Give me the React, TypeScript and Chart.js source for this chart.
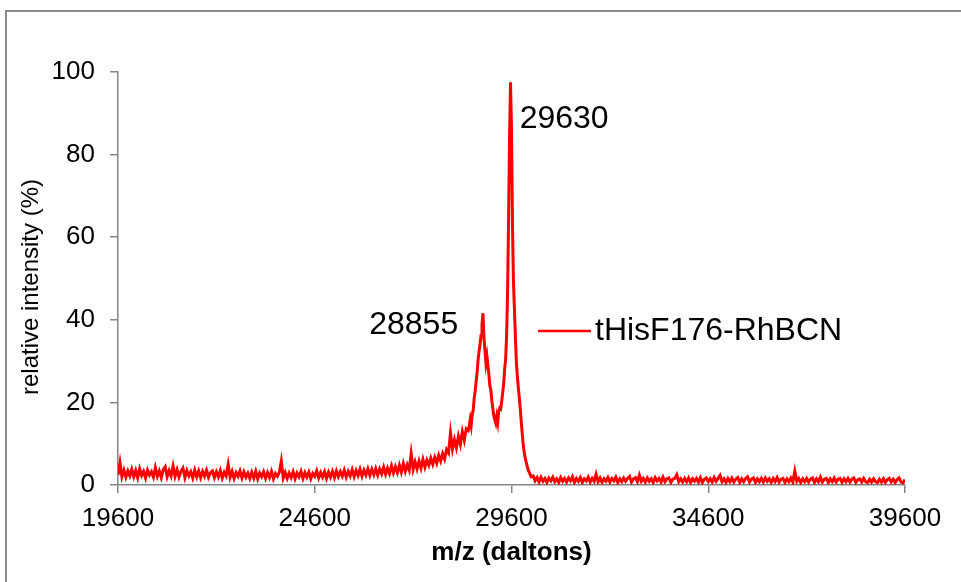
import { useEffect, useRef } from 'react';
import { Chart, registerables } from 'chart.js';

Chart.register(...registerables);

const FONT = "'Liberation Sans', Arial, Helvetica, sans-serif";
const AXIS_COLOR = '#868686';
const LINE_COLOR = '#ff0000';

const seriesLabel = 'tHisF176-RhBCN';
const xTitle = 'm/z (daltons)';
const yTitle = 'relative intensity (%)';
const peakLabels = ['28855', '29630'];
const peakMz = [28855, 29630];
const peakHeights = [41.6, 97.5];

const xMin = 19600;
const xMax = 39600;
const xStep = 5000;
const yMin = 0;
const yMax = 100;
const yStep = 20;

// low-mass baseline, 19600 - 28500
const mzLow = [
  19600, 19650, 19700, 19750, 19800, 19850, 19900, 19950,
  20000, 20050, 20100, 20150, 20200, 20250, 20300, 20350, 20400, 20450, 20500, 20550, 20600, 20650, 20700, 20750, 20800, 20850, 20900, 20950,
  21000, 21050, 21100, 21150, 21200, 21250, 21300, 21350, 21400, 21450, 21500, 21550, 21600, 21650, 21700, 21750, 21800, 21850, 21900, 21950,
  22000, 22050, 22100, 22150, 22200, 22250, 22300, 22350, 22400, 22450, 22500, 22550, 22600, 22650, 22700, 22750, 22800, 22850, 22900, 22950,
  23000, 23050, 23100, 23150, 23200, 23250, 23300, 23350, 23400, 23450, 23500, 23550, 23600, 23650, 23700, 23750, 23800, 23850, 23900, 23950,
  24000, 24050, 24100, 24150, 24200, 24250, 24300, 24350, 24400, 24450, 24500, 24550, 24600, 24650, 24700, 24750, 24800, 24850, 24900, 24950,
  25000, 25050, 25100, 25150, 25200, 25250, 25300, 25350, 25400, 25450, 25500, 25550, 25600, 25650, 25700, 25750, 25800, 25850, 25900, 25950,
  26000, 26050, 26100, 26150, 26200, 26250, 26300, 26350, 26400, 26450, 26500, 26550, 26600, 26650, 26700, 26750, 26800, 26850, 26900, 26950,
  27000, 27050, 27100, 27150, 27200, 27250, 27300, 27350, 27400, 27450, 27500, 27550, 27600, 27650, 27700, 27750, 27800, 27850, 27900, 27950,
  28000, 28050, 28100, 28150, 28200, 28250, 28300, 28350, 28400, 28450, 28500,
];
const intensityLow = [
  2.4, 5.4, 2.0, 3.6, 1.9, 3.4, 2.2, 3.8,
  2.0, 3.5, 1.8, 3.9, 2.3, 3.3, 1.7, 3.6, 2.4, 3.2, 1.9, 4.2, 2.1, 3.4, 1.8, 3.7, 4.4, 2.0, 3.5, 2.2,
  4.6, 2.1, 3.7, 1.9, 3.3, 4.1, 1.8, 3.5, 2.2, 3.2, 1.7, 3.6, 2.0, 3.4, 1.8, 3.3, 2.1, 3.6, 1.9, 3.0,
  3.4, 1.8, 3.2, 2.0, 3.5, 1.7, 3.1, 2.2, 5.0, 1.9, 3.3, 1.6, 3.0, 2.1, 3.4, 1.7, 3.2, 1.9, 2.9, 1.6,
  3.1, 1.7, 3.3, 1.5, 2.9, 2.0, 3.2, 1.6, 3.0, 1.8, 3.3, 1.5, 2.8, 2.1, 3.1, 5.8, 1.7, 3.0, 1.6, 2.9,
  1.8, 3.2, 1.5, 2.9, 2.0, 3.3, 1.6, 3.0, 1.9, 3.1, 1.5, 2.8, 2.1, 3.4, 1.7, 3.0, 1.9, 3.2, 1.6, 3.1,
  1.9, 3.3, 1.8, 3.4, 2.0, 3.2, 2.1, 3.6, 1.9, 3.3, 2.2, 3.7, 2.0, 3.5, 2.3, 3.8, 2.1, 3.6, 2.4, 3.9,
  2.3, 3.8, 2.5, 4.0, 2.4, 3.9, 2.7, 4.3, 2.6, 4.1, 2.8, 4.6, 2.9, 4.4, 3.0, 4.8, 3.1, 5.2, 3.3, 4.9,
  3.6, 7.6, 3.8, 5.6, 3.9, 5.8, 4.1, 6.2, 4.3, 6.0, 4.8, 6.5, 5.0, 6.7, 5.3, 7.2, 5.8, 7.6, 6.3, 8.6,
  7.8, 12.6, 8.7, 11.0, 9.0, 11.8, 9.8, 12.9, 10.8, 13.6, 13.2,
];

// peak region, 28525 - 30100
const mzPeak = [
  28525, 28550, 28575, 28600, 28625, 28650, 28675, 28700, 28725, 28750, 28775, 28800, 28825, 28850, 28875, 28900, 28925, 28950, 28975, 29000,
  29025, 29050, 29075, 29100, 29125, 29150, 29175, 29200, 29225, 29250, 29275, 29300, 29325, 29350, 29375, 29400, 29425, 29450, 29475, 29500,
  29525, 29550, 29575, 29600, 29625, 29650, 29675, 29700, 29725, 29750, 29775, 29800, 29825, 29850, 29875, 29900, 29925, 29950, 29975, 30000,
  30025, 30050, 30075, 30100,
];
const intensityPeak = [
  14.2, 15.8, 14.4, 17.0, 18.0, 20.8, 22.6, 25.0, 27.0, 30.2, 32.4, 34.0, 36.2, 38.8, 41.6, 35.6, 32.6, 29.6, 31.2, 29.0,
  26.8, 24.0, 23.0, 20.4, 18.6, 16.8, 15.8, 15.0, 16.6, 15.2, 17.8, 18.6, 18.4, 20.2, 22.2, 24.4, 28.0, 30.4, 36.0, 46.5,
  64.0, 84.0, 97.5, 86.0, 63.0, 49.0, 42.5, 35.5, 29.5, 26.2, 23.4, 21.0, 18.2, 15.0, 12.2, 9.6, 7.8, 6.5, 5.4, 4.5,
  3.6, 3.1, 2.5, 2.0,
];

// high-mass baseline, 30150 - 39600
const mzHigh = [
  30150, 30200, 30250, 30300, 30350, 30400, 30450, 30500, 30550, 30600, 30650, 30700, 30750, 30800, 30850, 30900, 30950,
  31000, 31050, 31100, 31150, 31200, 31250, 31300, 31350, 31400, 31450, 31500, 31550, 31600, 31650, 31700, 31750, 31800, 31850, 31900, 31950,
  32000, 32050, 32100, 32150, 32200, 32250, 32300, 32350, 32400, 32450, 32500, 32550, 32600, 32650, 32700, 32750, 32800, 32850, 32900, 32950,
  33000, 33050, 33100, 33150, 33200, 33250, 33300, 33350, 33400, 33450, 33500, 33550, 33600, 33650, 33700, 33750, 33800, 33850, 33900, 33950,
  34000, 34050, 34100, 34150, 34200, 34250, 34300, 34350, 34400, 34450, 34500, 34550, 34600, 34650, 34700, 34750, 34800, 34850, 34900, 34950,
  35000, 35050, 35100, 35150, 35200, 35250, 35300, 35350, 35400, 35450, 35500, 35550, 35600, 35650, 35700, 35750, 35800, 35850, 35900, 35950,
  36000, 36050, 36100, 36150, 36200, 36250, 36300, 36350, 36400, 36450, 36500, 36550, 36600, 36650, 36700, 36750, 36800, 36850, 36900, 36950,
  37000, 37050, 37100, 37150, 37200, 37250, 37300, 37350, 37400, 37450, 37500, 37550, 37600, 37650, 37700, 37750, 37800, 37850, 37900, 37950,
  38000, 38050, 38100, 38150, 38200, 38250, 38300, 38350, 38400, 38450, 38500, 38550, 38600, 38650, 38700, 38750, 38800, 38850, 38900, 38950,
  39000, 39050, 39100, 39150, 39200, 39250, 39300, 39350, 39400, 39450, 39500, 39550, 39600,
];
const intensityHigh = [
  2.2, 1.0, 1.8, 0.7, 1.9, 0.9, 1.6, 0.6, 1.7, 1.0, 1.9, 0.8, 1.5, 0.6, 1.8, 0.9, 1.6,
  0.7, 1.7, 1.0, 2.0, 0.6, 1.6, 0.9, 1.8, 0.6, 1.5, 1.0, 1.9, 0.7, 1.6, 0.9, 2.6, 0.8, 1.7, 0.6, 1.5,
  0.9, 1.8, 0.7, 1.6, 1.0, 1.9, 0.6, 1.5, 0.8, 1.7, 0.9, 1.6, 2.1, 0.7, 1.5, 1.8, 0.8, 2.4, 0.9, 1.6,
  0.7, 1.7, 0.9, 1.5, 0.6, 1.8, 1.0, 1.6, 0.7, 1.9, 0.8, 1.5, 1.7, 0.6, 1.4, 1.6, 2.5, 0.8, 1.5, 0.7,
  1.6, 0.8, 1.7, 0.6, 1.5, 0.9, 1.6, 0.7, 1.8, 0.6, 1.4, 1.7, 0.8, 1.5, 0.7, 1.8, 0.9, 1.6, 2.3, 0.8,
  1.5, 0.6, 1.6, 0.8, 1.7, 0.7, 1.4, 1.8, 0.6, 1.5, 0.8, 1.6, 2.0, 0.7, 1.4, 1.7, 0.6, 1.5, 0.8, 1.6,
  0.7, 1.7, 0.9, 1.5, 0.6, 1.6, 0.8, 1.8, 0.7, 1.4, 1.6, 0.6, 1.5, 0.8, 1.7, 0.7, 3.4, 0.9, 1.6, 0.6,
  1.5, 0.8, 1.6, 0.7, 1.4, 1.7, 0.6, 1.5, 0.8, 1.9, 0.7, 1.4, 1.6, 0.6, 1.5, 0.8, 1.7, 0.7, 1.4, 1.6,
  0.6, 1.5, 0.8, 1.6, 0.7, 1.4, 1.7, 0.6, 1.3, 1.5, 0.7, 1.6, 0.8, 0.6, 1.4, 0.7, 1.5, 0.8, 0.6, 1.4,
  0.7, 1.5, 0.6, 1.3, 1.6, 0.7, 1.4, 0.6, 1.3, 1.7, 0.7, 0.5, 1.3,
];

const mz = [...mzLow, ...mzPeak, ...mzHigh];
const intensity = [...intensityLow, ...intensityPeak, ...intensityHigh];

const overlayPlugin = {
  id: 'overlay',
  beforeDraw(chart: any) {
    const ctx = chart.ctx;
    ctx.save();
    ctx.strokeStyle = '#8c8c8c';
    ctx.lineWidth = 2;
    ctx.beginPath();
    ctx.moveTo(6, chart.height);
    ctx.lineTo(6, 11);
    ctx.lineTo(chart.width, 11);
    ctx.stroke();
    ctx.restore();
  },
  afterDatasetsDraw(chart: any) {
    const ctx = chart.ctx;
    const xs = chart.scales.x;
    const ys = chart.scales.y;
    ctx.save();
    ctx.fillStyle = '#000';
    // y-axis title
    ctx.save();
    ctx.font = `24px ${FONT}`;
    ctx.textAlign = 'center';
    ctx.textBaseline = 'middle';
    ctx.translate(31, 287);
    ctx.rotate(-Math.PI / 2);
    ctx.fillText(yTitle, 0, 0);
    ctx.restore();
    ctx.font = `32px ${FONT}`;
    ctx.textBaseline = 'middle';
    // peak labels
    ctx.textAlign = 'right';
    ctx.fillText(peakLabels[0], xs.getPixelForValue(peakMz[0]) - 24, ys.getPixelForValue(peakHeights[0]) + 12);
    ctx.textAlign = 'left';
    ctx.fillText(peakLabels[1], xs.getPixelForValue(peakMz[1]) + 7, ys.getPixelForValue(peakHeights[1]) + 37);
    // legend
    const ly = 331;
    ctx.strokeStyle = LINE_COLOR;
    ctx.lineWidth = 2.5;
    ctx.beginPath();
    ctx.moveTo(538, ly);
    ctx.lineTo(591, ly);
    ctx.stroke();
    ctx.fillText(seriesLabel, 595, ly);
    ctx.restore();
  },
};

export default function App() {
  const ref = useRef<HTMLCanvasElement>(null);
  useEffect(() => {
    document.body.style.margin = '0';
    const canvas = ref.current!;
    const points = mz.map((x, i) => ({ x, y: intensity[i] }));
    const chart = new Chart(canvas, {
      type: 'line',
      data: {
        datasets: [
          {
            label: seriesLabel,
            data: points,
            borderColor: LINE_COLOR,
            backgroundColor: LINE_COLOR,
            borderWidth: 3,
            pointRadius: 0,
            tension: 0,
            fill: false,
          },
        ],
      },
      options: {
        animation: false,
        responsive: false,
        devicePixelRatio: 1,
        layout: { padding: { top: 72, right: 56, bottom: 0, left: 0 } },
        plugins: { legend: { display: false }, tooltip: { enabled: false } },
        scales: {
          x: {
            type: 'linear',
            min: xMin,
            max: xMax,
            afterFit: (s: any) => {
              s.height = 97;
            },
            ticks: {
              stepSize: xStep,
              autoSkip: false,
              maxRotation: 0,
              callback: (v: any) => String(v),
              font: { family: FONT, size: 26 },
              color: '#000',
              padding: 10,
            },
            grid: { drawOnChartArea: false, tickLength: 8, color: AXIS_COLOR, lineWidth: 1.5 },
            border: { color: AXIS_COLOR, width: 1.5 },
            title: {
              display: true,
              text: xTitle,
              font: { family: FONT, size: 26, weight: 'bold' },
              color: '#000',
              padding: { top: 0, bottom: 14 },
            },
          },
          y: {
            type: 'linear',
            min: yMin,
            max: yMax,
            afterFit: (s: any) => {
              s.width = 118;
            },
            ticks: {
              stepSize: yStep,
              callback: (v: any) => String(v),
              font: { family: FONT, size: 26 },
              color: '#000',
              padding: 15,
            },
            grid: { drawOnChartArea: false, tickLength: 8, color: AXIS_COLOR, lineWidth: 1.5 },
            border: { color: AXIS_COLOR, width: 1.5 },
            title: { display: false, text: yTitle },
          },
        },
      },
      plugins: [overlayPlugin],
    });
    return () => chart.destroy();
  }, []);
  return <canvas ref={ref} width={961} height={582} style={{ display: 'block' }} />;
}
